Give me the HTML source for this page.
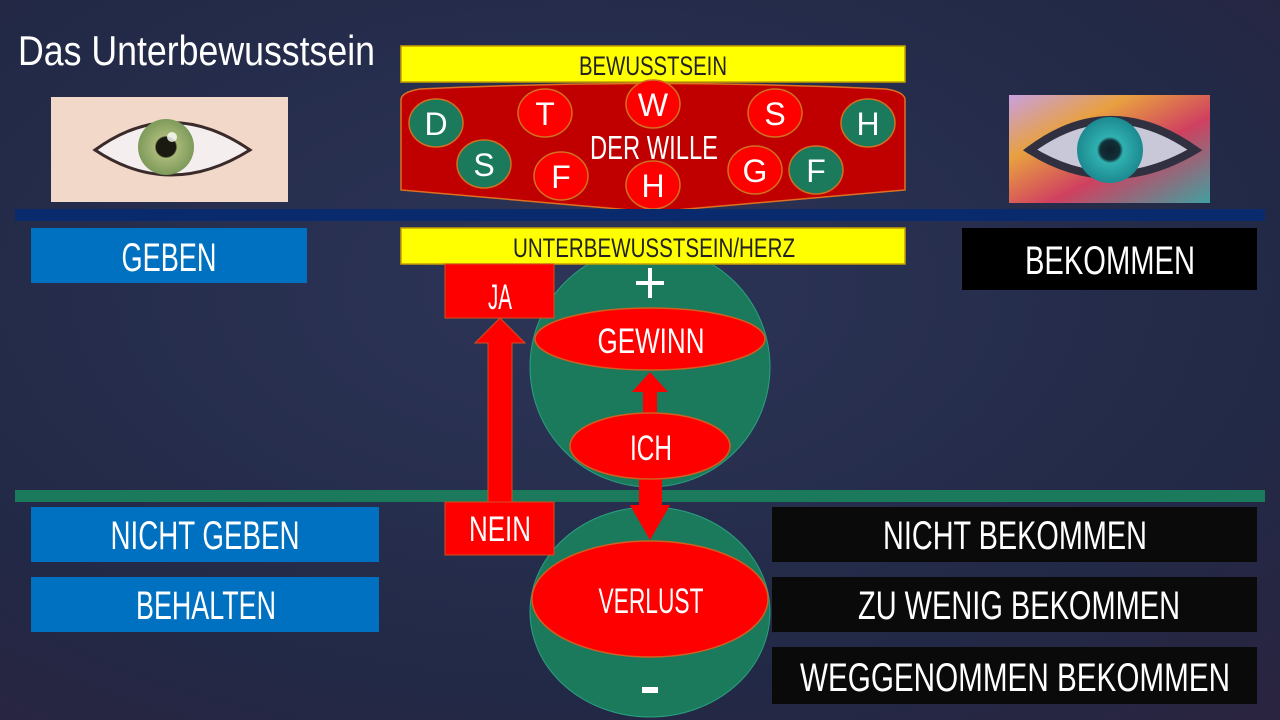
<!DOCTYPE html>
<html><head><meta charset="utf-8"><style>
html,body{margin:0;padding:0;width:1280px;height:720px;overflow:hidden;background:#252a45}
svg{display:block}
text{font-family:"Liberation Sans",sans-serif;}
</style></head><body>
<svg width="1280" height="720" viewBox="0 0 1280 720" xmlns="http://www.w3.org/2000/svg">
<defs>
<radialGradient id="bg" cx="0.45" cy="0.4" r="0.8">
<stop offset="0" stop-color="#2d3558"/><stop offset="0.7" stop-color="#222946"/><stop offset="1" stop-color="#2a2440"/>
</radialGradient>
<radialGradient id="iris1" cx="0.5" cy="0.5" r="0.5"><stop offset="0" stop-color="#1a1a10"/><stop offset="0.35" stop-color="#1a1a10"/><stop offset="0.4" stop-color="#a8b878"/><stop offset="1" stop-color="#7d9a5a"/></radialGradient>
<radialGradient id="iris2" cx="0.5" cy="0.5" r="0.5"><stop offset="0" stop-color="#102028"/><stop offset="0.3" stop-color="#103038"/><stop offset="0.4" stop-color="#30b0b0"/><stop offset="1" stop-color="#1c8a90"/></radialGradient>
<linearGradient id="rainbow" x1="0" y1="0" x2="1" y2="1"><stop offset="0" stop-color="#c8a0e0"/><stop offset="0.3" stop-color="#e8a040"/><stop offset="0.6" stop-color="#d04060"/><stop offset="1" stop-color="#40a0a0"/></linearGradient>
</defs>
<rect width="1280" height="720" fill="url(#bg)"/>

<text x="18" y="65" font-size="42" fill="#fff" textLength="357" lengthAdjust="spacingAndGlyphs">Das Unterbewusstsein</text>

<!-- left eye -->
<rect x="51" y="97" width="237" height="105" fill="#f2d8c8"/>
<path d="M95 150 Q170 95 250 150 Q170 200 95 150Z" fill="#f4eeee" stroke="#3a2a2a" stroke-width="3"/>
<circle cx="166" cy="147" r="28" fill="url(#iris1)"/>
<circle cx="172" cy="137" r="5" fill="#fff" opacity="0.8"/>
<!-- right eye -->
<rect x="1009" y="95" width="201" height="108" fill="url(#rainbow)"/>
<path d="M1030 150 Q1110 90 1195 150 Q1110 200 1030 150Z" fill="#c8c8d8" stroke="#303040" stroke-width="8"/>
<circle cx="1110" cy="150" r="33" fill="url(#iris2)"/>

<!-- top yellow -->
<rect x="401" y="46" width="504" height="36" fill="#ffff00" stroke="#c8a000" stroke-width="1.5"/>
<text x="653" y="75" font-size="27" fill="#222" text-anchor="middle" textLength="148" lengthAdjust="spacingAndGlyphs">BEWUSSTSEIN</text>

<!-- red shape -->
<path d="M401 100 Q401 92 420 89 Q653 78 886 89 Q905 92 905 100 L905 190 L653 212 L401 190 Z" fill="#c00000" stroke="#e07020" stroke-width="1.5"/>
<g stroke="#d07020" stroke-width="1.5">
<ellipse cx="436" cy="123" rx="27" ry="24" fill="#1c7a5c"/>
<ellipse cx="484" cy="164" rx="27" ry="24" fill="#1c7a5c"/>
<ellipse cx="545" cy="113" rx="27" ry="24" fill="#ff0000"/>
<ellipse cx="561" cy="176" rx="27" ry="24" fill="#ff0000"/>
<ellipse cx="653" cy="104" rx="27" ry="24" fill="#ff0000"/>
<ellipse cx="653" cy="185" rx="27" ry="24" fill="#ff0000"/>
<ellipse cx="775" cy="113" rx="27" ry="24" fill="#ff0000"/>
<ellipse cx="755" cy="170" rx="27" ry="24" fill="#ff0000"/>
<ellipse cx="816" cy="170" rx="27" ry="24" fill="#1c7a5c"/>
<ellipse cx="868" cy="123" rx="27" ry="24" fill="#1c7a5c"/>
</g>
<g font-size="32" fill="#fff" text-anchor="middle">
<text x="436" y="135">D</text><text x="484" y="176">S</text><text x="545" y="125">T</text>
<text x="561" y="188">F</text><text x="653" y="116">W</text><text x="653" y="197">H</text>
<text x="775" y="125">S</text><text x="755" y="182">G</text><text x="816" y="182">F</text>
<text x="868" y="135">H</text>
</g>
<text x="654" y="159" font-size="33" fill="#fff" text-anchor="middle" textLength="128" lengthAdjust="spacingAndGlyphs">DER WILLE</text>

<!-- blue line -->
<rect x="15" y="209" width="1250" height="12" fill="#0a2a6e"/>

<!-- green circles -->
<circle cx="650" cy="367" r="120" fill="#1c7a5c" stroke="#2aa080" stroke-width="1"/>
<ellipse cx="650" cy="612" rx="120" ry="105" fill="#1c7a5c" stroke="#2aa080" stroke-width="1"/>

<!-- yellow 2 -->
<rect x="401" y="228" width="504" height="36" fill="#ffff00" stroke="#c8a000" stroke-width="1.5"/>
<text x="654" y="257" font-size="27" fill="#222" text-anchor="middle" textLength="282" lengthAdjust="spacingAndGlyphs">UNTERBEWUSSTSEIN/HERZ</text>

<!-- green line -->
<rect x="15" y="490" width="1250" height="12" fill="#1c7a5c"/>

<!-- side boxes -->
<rect x="31" y="228" width="276" height="55" fill="#0070c0"/>
<text x="169" y="271" font-size="40" fill="#fff" text-anchor="middle" textLength="95" lengthAdjust="spacingAndGlyphs">GEBEN</text>
<rect x="962" y="228" width="295" height="62" fill="#000"/>
<text x="1110" y="274" font-size="40" fill="#fff" text-anchor="middle" textLength="170" lengthAdjust="spacingAndGlyphs">BEKOMMEN</text>
<rect x="31" y="507" width="348" height="55" fill="#0070c0"/>
<text x="205" y="549" font-size="40" fill="#fff" text-anchor="middle" textLength="189" lengthAdjust="spacingAndGlyphs">NICHT GEBEN</text>
<rect x="31" y="577" width="348" height="55" fill="#0070c0"/>
<text x="206" y="619" font-size="40" fill="#fff" text-anchor="middle" textLength="140" lengthAdjust="spacingAndGlyphs">BEHALTEN</text>
<rect x="772" y="507" width="485" height="55" fill="#0a0a0a"/>
<text x="1015" y="549" font-size="40" fill="#fff" text-anchor="middle" textLength="264" lengthAdjust="spacingAndGlyphs">NICHT BEKOMMEN</text>
<rect x="772" y="577" width="485" height="55" fill="#0a0a0a"/>
<text x="1019" y="619" font-size="40" fill="#fff" text-anchor="middle" textLength="322" lengthAdjust="spacingAndGlyphs">ZU WENIG BEKOMMEN</text>
<rect x="772" y="647" width="485" height="57" fill="#0a0a0a"/>
<text x="1015" y="691" font-size="40" fill="#fff" text-anchor="middle" textLength="430" lengthAdjust="spacingAndGlyphs">WEGGENOMMEN BEKOMMEN</text>

<!-- JA / NEIN arrow -->
<path d="M488 502 L488 343 L475 343 L500 318 L525 343 L512 343 L512 502 Z" fill="#ff0000" stroke="#d05020" stroke-width="1"/>
<rect x="445" y="264" width="109" height="54" fill="#ff0000" stroke="#d05020" stroke-width="1"/>
<text x="500" y="309" font-size="35" fill="#fff" text-anchor="middle" textLength="24" lengthAdjust="spacingAndGlyphs">JA</text>
<rect x="445" y="502" width="109" height="53" fill="#ff0000" stroke="#d05020" stroke-width="1"/>
<text x="500" y="541" font-size="35" fill="#fff" text-anchor="middle" textLength="62" lengthAdjust="spacingAndGlyphs">NEIN</text>

<!-- center arrows -->
<path d="M643 415 L643 392 L632 392 L650 372 L668 392 L657 392 L657 415 Z" fill="#ff0000"/>
<path d="M639 475 L639 505 L630 505 L650 540 L670 505 L662 505 L662 475 Z" fill="#ff0000"/>

<!-- ellipses -->
<ellipse cx="650" cy="339" rx="115" ry="31" fill="#ff0000" stroke="#d06020" stroke-width="1.5"/>
<text x="651" y="353" font-size="35" fill="#fff" text-anchor="middle" textLength="107" lengthAdjust="spacingAndGlyphs">GEWINN</text>
<ellipse cx="650" cy="446" rx="80" ry="33" fill="#ff0000" stroke="#d06020" stroke-width="1.5"/>
<text x="651" y="460" font-size="35" fill="#fff" text-anchor="middle" textLength="42" lengthAdjust="spacingAndGlyphs">ICH</text>
<ellipse cx="650" cy="599" rx="118" ry="58" fill="#ff0000" stroke="#d06020" stroke-width="1.5"/>
<text x="651" y="613" font-size="35" fill="#fff" text-anchor="middle" textLength="105" lengthAdjust="spacingAndGlyphs">VERLUST</text>

<!-- plus / minus -->
<rect x="648" y="268" width="4" height="30" fill="#fff"/>
<rect x="636" y="281" width="28" height="4" fill="#fff"/>
<rect x="642" y="687" width="16" height="6" fill="#fff"/>
</svg>
</body></html>
